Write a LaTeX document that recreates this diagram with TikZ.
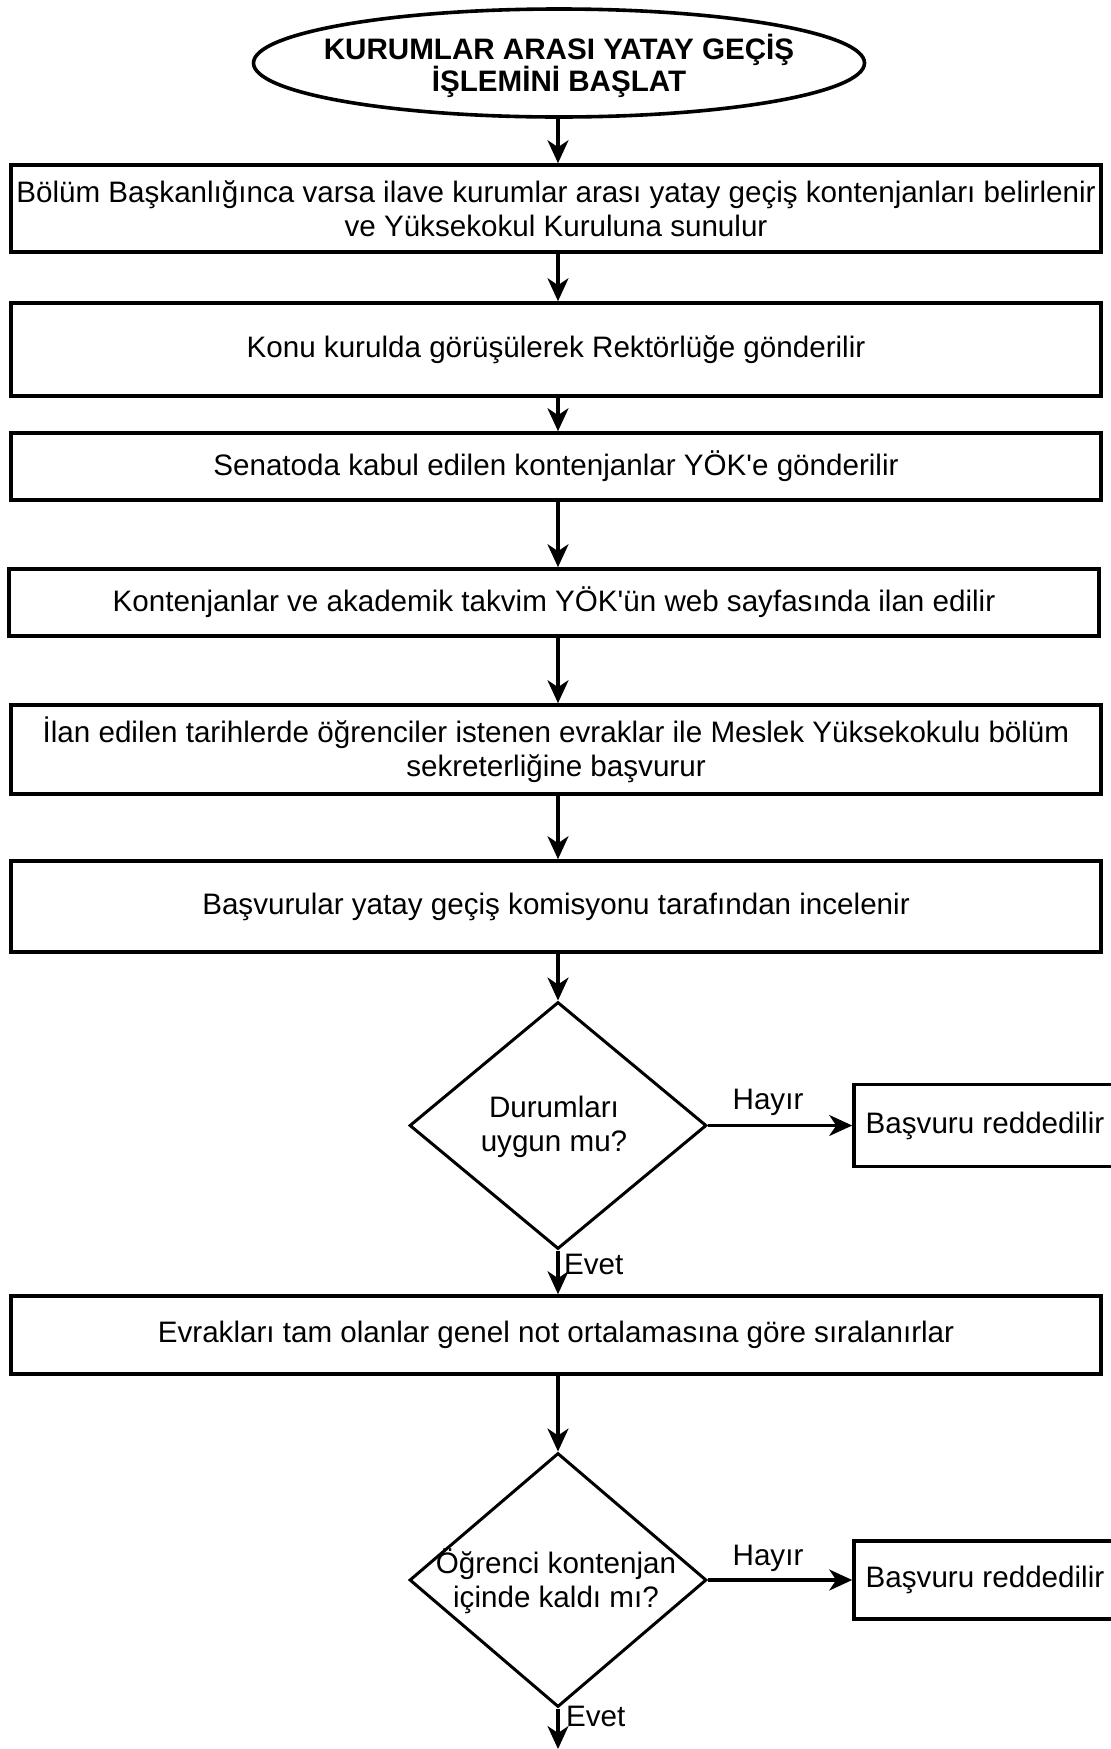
\documentclass[tikz,border=0pt]{standalone}
\usepackage{fontspec}
\setmainfont{Liberation Sans}
\usetikzlibrary{arrows.meta,shapes.geometric}
\begin{document}
\begin{tikzpicture}[x=1pt,y=-1pt,
  every node/.style={font=\fontsize{29.6}{34}\selectfont, align=center, inner sep=0pt},
  startnode/.style={draw, ellipse, line width=3.6pt, minimum width=611pt, minimum height=108pt},
  titletext/.style={font=\fontsize{29.6}{31}\selectfont\bfseries},
  stepbox/.style={draw, line width=3.6pt, minimum width=1090pt},
  rejectbox/.style={draw, line width=3.6pt, minimum width=262pt},
  decision/.style={draw, diamond, line width=3pt},
  flow/.style={line width=3.2pt, -{Stealth[length=23pt, width=21pt, inset=7pt]}},
  lbl/.style={font=\fontsize{29.6}{34}\selectfont}
]
\useasboundingbox (0,0) rectangle (1111,1749);
\clip (0,0) rectangle (1111,1749);

% start of the process
\node[startnode] (start) at (559,63) {};
\node[titletext] (startt) at (559,66) {KURUMLAR ARASI YATAY GEÇİŞ\\İŞLEMİNİ BAŞLAT};

% process steps
\node[stepbox, minimum height=87pt] (b1) at (556,208.5)
  {Bölüm Başkanlığınca varsa ilave kurumlar arası yatay geçiş kontenjanları belirlenir\\ve Yüksekokul Kuruluna sunulur};
\node[stepbox, minimum height=93pt] (b2) at (556,349.5)
  {Konu kurulda görüşülerek Rektörlüğe gönderilir};
\node[stepbox, minimum height=67pt] (b3) at (556,466.5)
  {Senatoda kabul edilen kontenjanlar YÖK\textquotesingle e gönderilir};
\node[stepbox, minimum height=67pt] (b4) at (554,602.5)
  {Kontenjanlar ve akademik takvim YÖK\textquotesingle ün web sayfasında ilan edilir};
\node[stepbox, minimum height=89pt] (b5) at (556,749.5)
  {İlan edilen tarihlerde öğrenciler istenen evraklar ile Meslek Yüksekokulu bölüm\\sekreterliğine başvurur};
\node[stepbox, minimum height=91pt] (b6) at (556,906.5)
  {Başvurular yatay geçiş komisyonu tarafından incelenir};

% first decision
\node[decision, minimum width=297pt, minimum height=247pt] (d1) at (558,1125.5) {};
\node (d1t) at (554,1127) {Durumları\\uygun mu?};
\node[rejectbox, minimum height=82pt] (r1) at (985,1125.5) {Başvuru reddedilir};

\node[stepbox, minimum height=78pt] (b7) at (556,1335)
  {Evrakları tam olanlar genel not ortalamasına göre sıralanırlar};

% second decision
\node[decision, minimum width=297pt, minimum height=254pt] (d2) at (558,1580) {};
\node (d2t) at (556,1581) {Öğrenci kontenjan\\içinde kaldı mı?};
\node[rejectbox, minimum height=78pt] (r2) at (985,1580) {Başvuru reddedilir};
\coordinate (end) at (558,1749);

% branch labels
\node[lbl] (h1) at (768,1102) {Hayır};
\node[lbl, anchor=west] (e1) at (564,1264) {Evet};
\node[lbl] (h2) at (768,1558) {Hayır};
\node[lbl, anchor=west] (e2) at (566,1716) {Evet};

% connectors
\draw[flow] (start.south -| d1.north) -- (b1.north -| d1.north);
\draw[flow] (b1.south -| d1.north) -- (b2.north -| d1.north);
\draw[flow] (b2.south -| d1.north) -- (b3.north -| d1.north);
\draw[flow] (b3.south -| d1.north) -- (b4.north -| d1.north);
\draw[flow] (b4.south -| d1.north) -- (b5.north -| d1.north);
\draw[flow] (b5.south -| d1.north) -- (b6.north -| d1.north);
\draw[flow] (b6.south -| d1.north) -- (d1.north);
\draw[flow] (d1.east) -- (r1.west);
\draw[flow] (d1.south) -- (b7.north -| d1.south);
\draw[flow] (b7.south -| d2.north) -- (d2.north);
\draw[flow] (d2.east) -- (r2.west);
\draw[flow] (d2.south) -- (end);
\end{tikzpicture}
\end{document}
